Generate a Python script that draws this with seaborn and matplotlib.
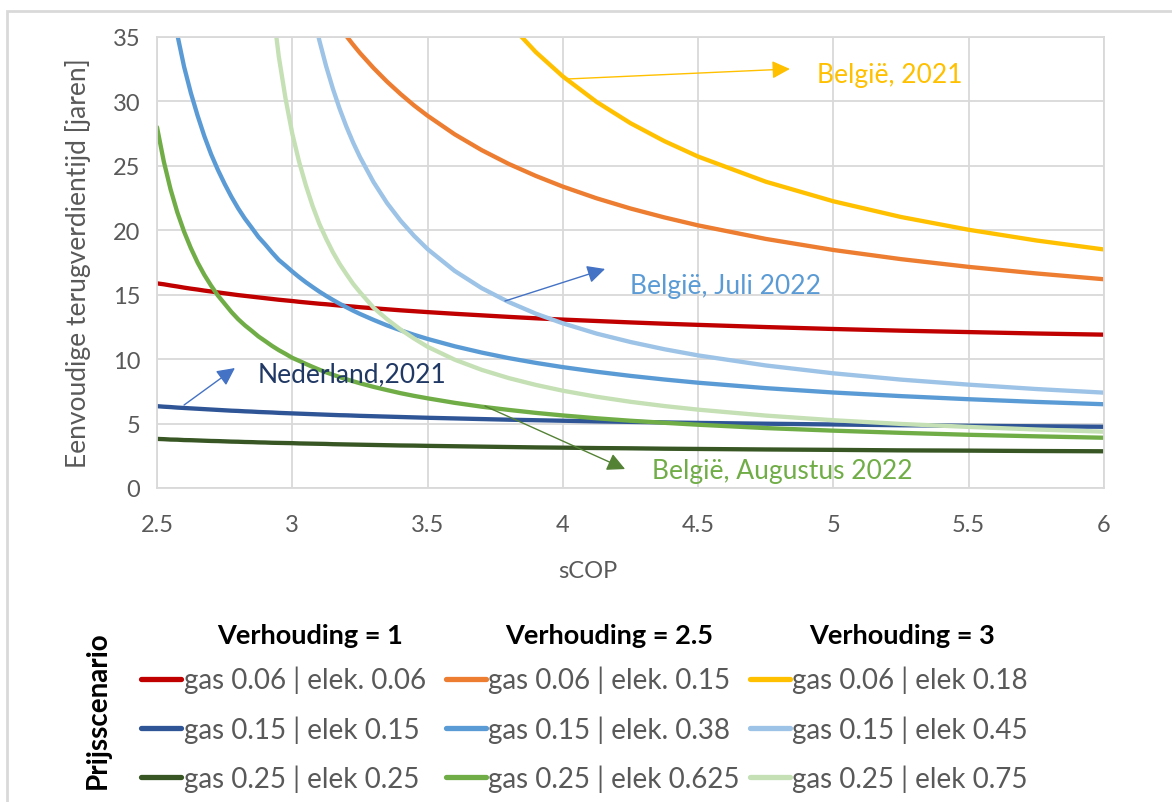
import numpy as np
import pandas as pd
import matplotlib
matplotlib.use("Agg")
import matplotlib.pyplot as plt
import seaborn as sns
from matplotlib.lines import Line2D
from matplotlib.patches import Rectangle

# sCOP grid the curves were read at (finer where the curves are steep)
scop = [2.5, 2.525, 2.55, 2.575, 2.6, 2.625, 2.65, 2.675, 2.7, 2.725, 2.75, 2.775, 2.8,
        2.825, 2.85, 2.875, 2.9, 2.925, 2.95, 2.975, 3.0, 3.025, 3.05, 3.075, 3.1, 3.125,
        3.15, 3.175, 3.2, 3.225, 3.25,
        3.3, 3.35, 3.4, 3.45, 3.5,
        3.6, 3.7, 3.8, 3.9, 4.0,
        4.125, 4.25, 4.375, 4.5, 4.75, 5.0, 5.25, 5.5, 5.75, 6.0]

N = None
# Verhouding = 1
gas006_el006 = [15.88, 15.81, 15.72, 15.64, 15.55, 15.47, 15.40, 15.32, 15.25, 15.18, 15.11,
                15.04, 14.97, 14.91, 14.85, 14.79, 14.73, 14.67, 14.61, 14.56, 14.51, 14.45,
                14.40, 14.35, 14.30, 14.26, 14.21, 14.16, 14.12, 14.08, 14.03,
                13.95, 13.87, 13.79, 13.72, 13.65,
                13.52, 13.40, 13.28, 13.17, 13.07,
                12.96, 12.85, 12.75, 12.66, 12.49, 12.34, 12.21, 12.10, 11.99, 11.90]
gas015_el015 = [6.35, 6.31, 6.28, 6.24, 6.21, 6.18, 6.15, 6.12, 6.09, 6.06, 6.03, 6.00, 5.98,
                5.95, 5.93, 5.90, 5.88, 5.86, 5.83, 5.81, 5.79, 5.77, 5.75, 5.73, 5.71, 5.69,
                5.67, 5.65, 5.64, 5.62, 5.60,
                5.57, 5.54, 5.51, 5.48, 5.45,
                5.40, 5.35, 5.30, 5.26, 5.22,
                5.17, 5.13, 5.09, 5.05, 4.99, 4.93, 4.87, 4.83, 4.79, 4.75]
gas025_el025 = [3.81, 3.79, 3.76, 3.75, 3.72, 3.71, 3.69, 3.67, 3.65, 3.64, 3.62, 3.60, 3.59,
                3.57, 3.56, 3.54, 3.53, 3.51, 3.50, 3.49, 3.48, 3.46, 3.45, 3.44, 3.43, 3.42,
                3.40, 3.39, 3.38, 3.37, 3.36,
                3.34, 3.32, 3.30, 3.29, 3.27,
                3.24, 3.21, 3.18, 3.15, 3.13,
                3.10, 3.08, 3.05, 3.03, 2.99, 2.96, 2.92, 2.90, 2.87, 2.85]
# Verhouding = 2.5
gas006_el015 = [N, N, N, N, N, N, N, N, N, N, N, N, N, N, N, N, N, N, N, N, N, N, N, N, N, N,
                36.5, 35.77, 35.07, 34.40, 33.76,
                32.60, 31.54, 30.58, 29.69, 28.89,
                27.45, 26.22, 25.15, 24.22, 23.39,
                22.48, 21.69, 21.00, 20.38, 19.33, 18.47, 17.76, 17.16, 16.65, 16.20]
gas015_el038 = [45.8, 41.5, 38.1, 35.19, 32.7, 30.67, 28.9, 27.30, 25.9, 24.69, 23.6, 22.60,
                21.7, 20.90, 20.2, 19.48, 18.9, 18.28, 17.7, 17.26, 16.8, 16.37, 15.97, 15.60,
                15.24, 14.91, 14.60, 14.30, 14.03, 13.76, 13.51,
                13.05, 12.62, 12.24, 11.89, 11.57,
                11.00, 10.51, 10.08, 9.71, 9.38,
                9.02, 8.70, 8.42, 8.17, 7.75, 7.41, 7.13, 6.89, 6.68, 6.50]
gas025_el0625 = [28.0, 25.35, 23.19, 21.40, 19.9, 18.62, 17.5, 16.54, 15.7, 14.94, 14.3, 13.66,
                 13.1, 12.62, 12.2, 11.76, 11.4, 11.03, 10.7, 10.41, 10.1, 9.87, 9.63, 9.40,
                 9.18, 8.98, 8.79, 8.61, 8.44, 8.28, 8.13,
                 7.85, 7.60, 7.36, 7.15, 6.96,
                 6.61, 6.31, 6.06, 5.83, 5.63,
                 5.41, 5.22, 5.06, 4.91, 4.65, 4.45, 4.28, 4.13, 4.01, 3.90]
# Verhouding = 3
gas006_el018 = [N, N, N, N, N, N, N, N, N, N, N, N, N, N, N, N, N, N, N, N, N, N, N, N, N, N,
                N, N, N, N, N,
                N, N, N, N, N,
                N, N, 36.08, 33.83, 31.94,
                29.96, 28.31, 26.92, 25.72, 23.77, 22.25, 21.03, 20.04, 19.21, 18.51]
gas015_el045 = [N, N, N, N, N, N, N, N, N, N, N, N, N, N, N, N, N, N, N, N, N, N,
                39.7, 37.04, 34.73, 32.74, 30.99, 29.43, 28.04, 26.80, 25.69,
                23.75, 22.12, 20.75, 19.57, 18.54,
                16.85, 15.51, 14.43, 13.53, 12.78,
                11.98, 11.33, 10.77, 10.29, 9.51, 8.90, 8.41, 8.02, 7.68, 7.40]
gas025_el075 = [N, N, N, N, N, N, N, N, N, N, N, N, N, N, N, N,
                43.4, 37.81, 33.5, 30.23, 27.5, 25.33, 23.5, 21.89, 20.5, 19.35, 18.3, 17.39,
                16.6, 15.84, 15.2,
                14.0, 13.1, 12.3, 11.6, 10.96,
                9.96, 9.17, 8.53, 8.00, 7.55,
                7.08, 6.69, 6.36, 6.08, 5.62, 5.26, 4.97, 4.74, 4.54, 4.37]

series = [
    ("gas 0.06 | elek. 0.06", gas006_el006, "#C00000"),
    ("gas 0.06 | elek. 0.15", gas006_el015, "#ED7D31"),
    ("gas 0.06 | elek 0.18", gas006_el018, "#FFC000"),
    ("gas 0.15 | elek 0.15", gas015_el015, "#2F5597"),
    ("gas 0.15 | elek. 0.38", gas015_el038, "#5B9BD5"),
    ("gas 0.15 | elek 0.45", gas015_el045, "#9DC3E6"),
    ("gas 0.25 | elek 0.25", gas025_el025, "#375623"),
    ("gas 0.25 | elek 0.625", gas025_el0625, "#70AD47"),
    ("gas 0.25 | elek 0.75", gas025_el075, "#C5E0B4"),
]

ratio_headers = ["Verhouding = 1", "Verhouding = 2.5", "Verhouding = 3"]
x_ticks = [2.5, 3, 3.5, 4, 4.5, 5, 5.5, 6]
y_ticks = [0, 5, 10, 15, 20, 25, 30, 35]

sns.set_theme(style="white")
plt.rcParams["font.family"] = ["Lato", "DejaVu Sans"]

W, H = 1172, 803
fig = plt.figure(figsize=(W / 100, H / 100), dpi=100)
ax = fig.add_axes([157 / W, 1 - 489 / H, (1104 - 157) / W, (489 - 38) / H])

grid_c = "#D9D9D9"
text_c = "#595959"

for label, vals, color in series:
    df = pd.DataFrame({"sCOP": scop, "jaren": [np.nan if v is None else v for v in vals]})
    sns.lineplot(data=df, x="sCOP", y="jaren", color=color, linewidth=3.1,
                 estimator=None, sort=False, ax=ax, label=label, legend=False)

ax.set_xlim(2.5, 6)
ax.set_ylim(0, 35)
ax.set_xticks(x_ticks)
ax.set_xticklabels(["2.5", "3", "3.5", "4", "4.5", "5", "5.5", "6"])
ax.set_yticks(y_ticks)
ax.grid(True, color=grid_c, linewidth=1.3)
for s in ax.spines.values():
    s.set_color(grid_c)
    s.set_linewidth(1.3)
ax.tick_params(axis="both", length=0, labelsize=17, colors=text_c)
ax.tick_params(axis="x", pad=19)
ax.tick_params(axis="y", pad=12)

ax.set_xlabel("sCOP", fontsize=17, color=text_c)
ax.xaxis.set_label_coords(0.455, -0.16)
ax.set_ylabel("Eenvoudige terugverdientijd [jaren]", fontsize=19, color=text_c)
ax.yaxis.set_label_coords(-0.07, 0.5)

# annotations
notes = [
    ("België, 2021", (4.015, 31.74), (4.839, 32.52), (4.94, 32.1), "#FFC000", "#FFC000"),
    ("België, Juli 2022", (3.786, 14.51), (4.156, 17.0), (4.25, 15.7), "#5B9BD5", "#4472C4"),
    ("Nederland,2021", (2.600, 6.44), (2.788, 9.31), (2.873, 8.85), "#203864", "#4472C4"),
    ("België, Augustus 2022", (3.712, 6.36), (4.23, 1.47), (4.33, 1.32), "#70AD47", "#548235"),
]
for txt, tail, head, tpos, tcol, acol in notes:
    ax.annotate("", xy=head, xytext=tail,
                arrowprops=dict(arrowstyle="-|>,head_length=0.9,head_width=0.45",
                                color=acol, lw=1.0, shrinkA=0, shrinkB=0))
    ax.text(tpos[0], tpos[1], txt, color=tcol, fontsize=19, ha="left", va="center")

# legend: three columns, one per ratio
handles = [Line2D([0], [0], color=c, lw=3.8) for _, _, c in series]
labels = [l for l, _, _ in series]
col_x = [141, 446, 750]
head_x = [310, 609, 902]
for i in range(3):
    idx = [i, i + 3, i + 6]
    leg = fig.legend([handles[j] for j in idx], [labels[j] for j in idx],
                     loc="upper left", bbox_to_anchor=(col_x[i] / W, 1 - 667 / H),
                     frameon=False, fontsize=20, handlelength=1.45, handletextpad=0.08,
                     labelspacing=0.78, borderpad=0, borderaxespad=0)
    for t in leg.get_texts():
        t.set_color(text_c)
    fig.text(head_x[i] / W, 1 - 636 / H, ratio_headers[i], fontsize=19.5,
             fontweight="bold", color="black", ha="center", va="center")

fig.text(98 / W, 1 - 710 / H, "Prijsscenario", fontsize=20, fontweight="bold",
         rotation=90, color="black", ha="center", va="center")

fig.patches.append(Rectangle((7 / W, -0.1), 1.2, 1.1 - 12 / H, transform=fig.transFigure,
                             fill=False, edgecolor=grid_c, linewidth=2, zorder=0))

fig.savefig("out.png", dpi=100)
